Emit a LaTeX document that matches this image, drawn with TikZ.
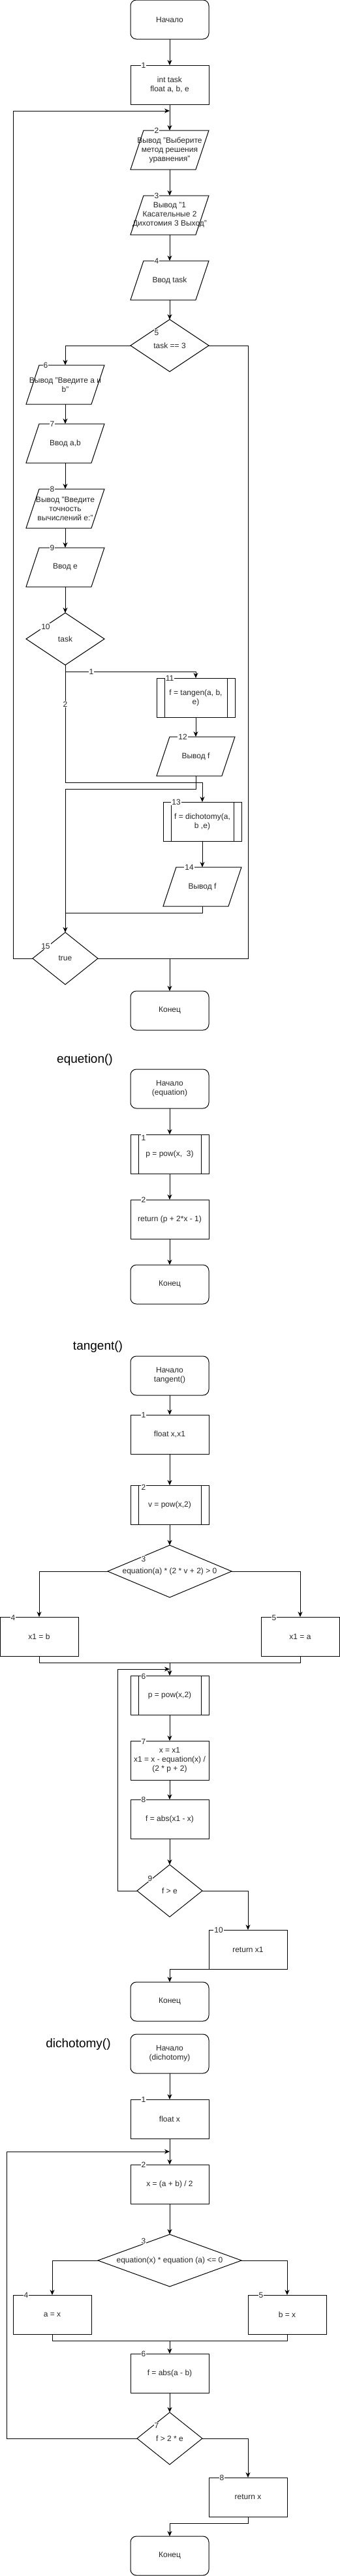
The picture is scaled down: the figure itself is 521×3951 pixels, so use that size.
\documentclass[tikz,border=0pt]{standalone}
\usepackage{fontspec}
\setmainfont{Liberation Sans}
\usetikzlibrary{shapes.geometric,arrows.meta}
\tikzset{
  base/.style={draw=black, line width=1pt, inner sep=2pt, outer sep=0pt, align=center,
    font=\fontsize{12}{14}\selectfont, text=black!85},
  term/.style={base, rounded corners=9pt, minimum width=120pt, minimum height=60pt},
  proc/.style={base, minimum width=120pt, minimum height=60pt},
  subproc/.style={proc, path picture={
      \draw[line width=1pt] ([xshift=12pt]path picture bounding box.north west) -- ([xshift=12pt]path picture bounding box.south west);
      \draw[line width=1pt] ([xshift=-12pt]path picture bounding box.north east) -- ([xshift=-12pt]path picture bounding box.south east);}},
  iobox/.style={base, draw=none, minimum width=120pt, minimum height=60pt},
  dec/.style={draw=black, line width=1pt, shape=diamond, inner sep=0pt, outer sep=0pt},
  txt/.style={align=center, font=\fontsize{12}{14}\selectfont, text=black!85, inner sep=0pt},
  num/.style={fill=white, inner sep=1pt, font=\fontsize{12}{14}\selectfont, text=black!85},
  ttl/.style={font=\fontsize{19}{22}\selectfont, text=black, inner sep=0pt},
  arr/.style={-{Stealth[length=8pt,width=7pt,inset=2.5pt]}, line width=1pt},
  ln/.style={line width=1pt},
}
\newcommand{\pgm}[4]{%
  \node[iobox] (#1) at (#2,#3) {#4};
  \draw[line width=1pt, line join=miter] (#1.south west) -- ([xshift=20pt]#1.north west) -- (#1.north east) -- ([xshift=-20pt]#1.south east) -- cycle;}
\begin{document}
\begin{tikzpicture}[x=1pt,y=-1pt]
\fill[white] (0,0) rectangle (521,3951);
\useasboundingbox (0,0) rectangle (521,3951);

% ---------------- main ----------------
\node[term] (m0) at (260,30) {Начало};
\node[proc] (m1) at (260,130) {int task\\float a, b, e};
\pgm{m2}{260}{230}{Вывод "Выберите\\метод решения\\уравнения"}
\pgm{m3}{260}{330}{Вывод "1\\Касательные 2\\Дихотомия 3 Выход"}
\pgm{m4}{260}{430}{Ввод task}
\node[dec, minimum width=120pt, minimum height=80pt] (m5) at (260,530) {};
\node[txt] at (m5) {task == 3};
\pgm{m6}{100}{590}{Вывод "Введите а и\\b"}
\pgm{m7}{100}{680}{Ввод a,b}
\pgm{m8}{100}{780}{Вывод "Введите\\точность\\вычислений e:"}
\pgm{m9}{100}{870}{Ввод e}
\node[dec, minimum width=120pt, minimum height=80pt] (m10) at (100,980) {};
\node[txt] at (m10) {task};
\node[subproc] (m11) at (300,1070) {f = tangen(a, b,\\e)};
\pgm{m12}{300}{1160}{Вывод f}
\node[subproc] (m13) at (310,1260) {f = dichotomy(a,\\b ,e)};
\pgm{m14}{310}{1360}{Вывод f}
\node[dec, minimum width=100pt, minimum height=80pt] (m15) at (100,1470) {};
\node[txt] at (m15) {true};
\node[term] (m16) at (260,1550) {Конец};

\coordinate (mL) at (260,170);
\coordinate (mJ) at (260,1470);
\coordinate (mB) at (100,1030);
\draw[arr] (m0) -- (m1);
\draw[arr] (m1) -- (m2);
\draw[arr] (m2) -- (m3);
\draw[arr] (m3) -- (m4);
\draw[arr] (m4) -- (m5);
\draw[arr] (m5.west) -| (m6.north);
\draw[ln] (m5.east) -| (380,1470) -- (mJ);
\draw[arr] (m15.east) -- (mJ) -- (m16.north);
\draw[arr] (m6) -- (m7);
\draw[arr] (m7) -- (m8);
\draw[arr] (m8) -- (m9);
\draw[arr] (m9) -- (m10);
\draw[arr] (m10.south) -- (mB) -| (m11.north);
\draw[arr] (mB) -- (100,1200) -| (m13.north);
\draw[arr] (m11) -- (m12);
\draw[arr] (m12.south) -- (300,1210) -| (m15.north);
\draw[arr] (m13) -- (m14);
\draw[ln] (m14.south) |- (100,1400);
\draw[arr] (m15.west) -- (20,1470) |- (mL);
\node[num] at (140,1030) {1};
\node[num] at (100,1080) {2};

\node[num] at (220,100) {1};
\node[num] at (240,200) {2};
\node[num] at (240,300) {3};
\node[num] at (240,400) {4};
\node[num] at (240,510) {5};
\node[num] at (70,560) {6};
\node[num] at (80,650) {7};
\node[num] at (80,750) {8};
\node[num] at (80,840) {9};
\node[num] at (70,961) {10};
\node[num] at (260,1040) {11};
\node[num] at (280,1130) {12};
\node[num] at (270,1230) {13};
\node[num] at (290,1330) {14};
\node[num] at (70,1451) {15};

% ---------------- equation ----------------
\node[ttl] (eT) at (130,1626) {equetion()};
\node[term] (e0) at (260,1670) {Начало\\(equation)};
\node[subproc] (e1) at (260,1770) {p = pow(x,\ \ 3)};
\node[proc] (e2) at (260,1870) {return (p + 2*x - 1)};
\node[term] (e3) at (260,1970) {Конец};
\draw[arr] (e0) -- (e1);
\draw[arr] (e1) -- (e2);
\draw[arr] (e2) -- (e3);
\node[num] at (220,1745) {1};
\node[num] at (220,1840) {2};

% ---------------- tangent ----------------
\node[ttl] (tT) at (150,2066) {tangent()};
\node[term] (t0) at (260,2110) {Начало\\tangent()};
\node[proc] (t1) at (260,2200) {float x,x1};
\node[subproc] (t2) at (260,2308) {v = pow(x,2)};
\node[dec, minimum width=190pt, minimum height=80pt] (t3) at (260,2410) {};
\node[txt] at (t3) {equation(a) * (2 * v + 2) > 0};
\node[proc] (t4) at (60,2510) {x1 = b};
\node[proc] (t5) at (460,2510) {x1 = a};
\node[subproc] (t6) at (260,2600) {p = pow(x,2)};
\node[proc] (t7) at (260,2700) {x = x1\\x1 = x - equation(x) /\\(2 * p + 2)};
\node[proc] (t8) at (260,2790) {f = abs(x1 - x)};
\node[dec, minimum width=100pt, minimum height=80pt] (t9) at (260,2900) {};
\node[txt] at (t9) {f > e};
\node[proc] (t10) at (380,2990) {return x1};
\node[term] (t11) at (260,3070) {Конец};

\coordinate (tJ) at (260,2550);
\coordinate (tL) at (260,2560);
\draw[arr] (t0) -- (t1);
\draw[arr] (t1) -- (t2);
\draw[arr] (t2) -- (t3);
\draw[arr] (t3.west) -| (t4.north);
\draw[arr] (t3.east) -| (t5.north);
\draw[ln] (t4.south) |- (tJ) -| (t5.south);
\draw[arr] (tJ) -- (t6);
\draw[arr] (t6) -- (t7);
\draw[arr] (t7) -- (t8);
\draw[arr] (t8) -- (t9);
\draw[arr] (t9.west) -- (180,2900) |- (tL);
\draw[arr] (t9.east) -| (t10.north);
\draw[arr] (t10.south) -| (t11.north);
\node[num] at (220,2170) {1};
\node[num] at (220,2281) {2};
\node[num] at (220,2391) {3};
\node[num] at (20,2481) {4};
\node[num] at (420,2481) {5};
\node[num] at (220,2571) {6};
\node[num] at (220,2671) {7};
\node[num] at (220,2760) {8};
\node[num] at (230,2881) {9};
\node[num] at (335,2960) {10};

% ---------------- dichotomy ----------------
\node[ttl] (dT) at (120,3136) {dichotomy()};
\node[term] (d0) at (260,3150) {Начало\\(dichotomy)};
\node[proc] (d1) at (260,3250) {float x};
\node[proc] (d2) at (260,3350) {x = (a + b) / 2};
\node[dec, minimum width=220pt, minimum height=80pt] (d3) at (260,3467) {};
\node[txt] at (d3) {equation(x) * equation (a) <= 0};
\node[proc] (d4) at (80,3550) {a = x};
\node[proc] (d5) at (440,3550) {b = x};
\node[proc] (d6) at (260,3640) {f = abs(a - b)};
\node[dec, minimum width=100pt, minimum height=80pt] (d7) at (260,3740) {};
\node[txt] at (d7) {f > 2 * e};
\node[proc] (d8) at (380,3830) {return x};
\node[term] (d9) at (260,3920) {Конец};

\coordinate (dJ) at (260,3590);
\coordinate (dL) at (260,3300);
\draw[arr] (d0) -- (d1);
\draw[arr] (d1) -- (d2);
\draw[arr] (d2) -- (d3);
\draw[arr] (d3.west) -| (d4.north);
\draw[arr] (d3.east) -| (d5.north);
\draw[ln] (d4.south) |- (dJ) -| (d5.south);
\draw[arr] (dJ) -- (d6);
\draw[arr] (d6) -- (d7);
\draw[arr] (d7.west) -- (10,3740) |- (dL);
\draw[arr] (d7.east) -| (d8.north);
\draw[arr] (d8.south) -- (380,3870) -| (d9.north);
\node[num] at (220,3220) {1};
\node[num] at (220,3320) {2};
\node[num] at (220,3437) {3};
\node[num] at (40,3520) {4};
\node[num] at (400,3520) {5};
\node[num] at (220,3610) {6};
\node[num] at (240,3720) {7};
\node[num] at (340,3800) {8};
\end{tikzpicture}
\end{document}
